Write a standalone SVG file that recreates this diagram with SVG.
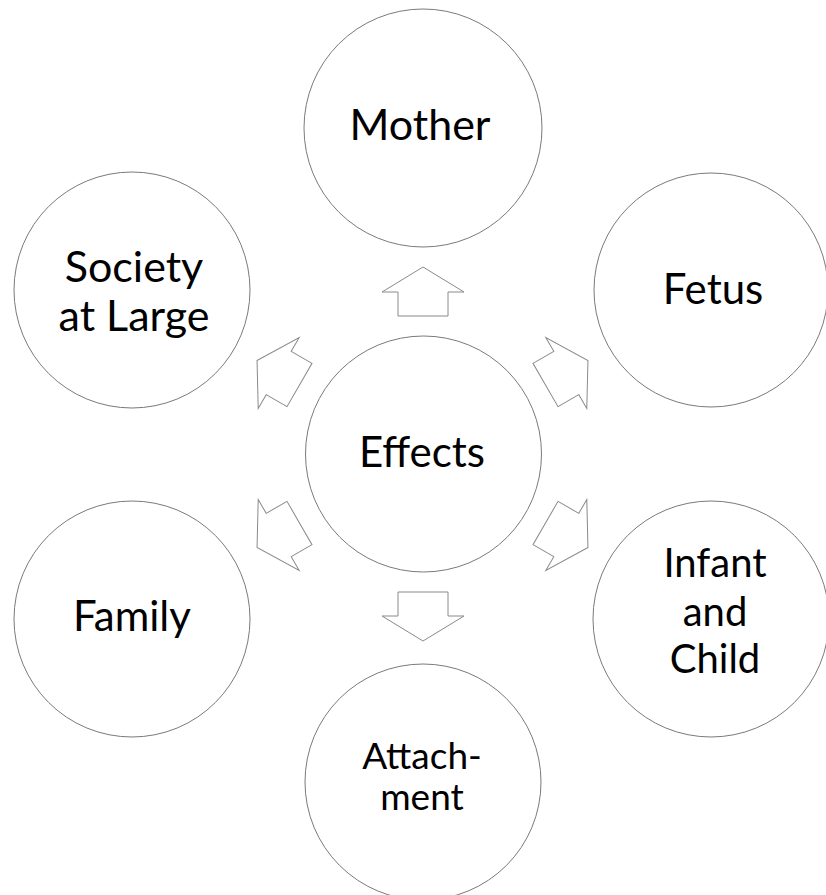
<svg xmlns="http://www.w3.org/2000/svg" width="826" height="895" viewBox="0 0 826 895">
<style>
.c{fill:#fff;stroke:#7a7a7a;stroke-width:1}
.a{fill:#fff;stroke:#8a8a8a;stroke-width:1;stroke-linejoin:miter}
.t{font-family:Lato,"Open Sans","Liberation Sans",sans-serif;fill:#000;text-anchor:middle}
</style>
<defs>
<polygon id="arr" points="423,267 464,292 448,292 448,316 398,316 398,292 382,292"/>
</defs>
<rect width="826" height="895" fill="#fff"/>
<g id="connectors">
<use href="#arr" class="a"/>
<use href="#arr" class="a" transform="translate(3,0) rotate(60 423 454)"/>
<use href="#arr" class="a" transform="translate(3,0) rotate(120 423 454)"/>
<use href="#arr" class="a" transform="rotate(180 423 454)"/>
<use href="#arr" class="a" transform="translate(-4,0) rotate(-120 423 454)"/>
<use href="#arr" class="a" transform="translate(-4,0) rotate(-60 423 454)"/>
</g>
<g id="effects">
<circle class="c" cx="423.5" cy="454" r="118"/>
<text class="t" x="422" y="467" font-size="42">Effects</text>
</g>
<g id="mother">
<circle class="c" cx="423" cy="128" r="119"/>
<text class="t" x="420" y="140" font-size="43">Mother</text>
</g>
<g id="fetus">
<circle class="c" cx="711" cy="290" r="117"/>
<text class="t" x="713" y="304" font-size="42">Fetus</text>
</g>
<g id="infant">
<circle class="c" cx="711" cy="619" r="118"/>
<text class="t" x="715" y="577" font-size="40">Infant</text>
<text class="t" x="715" y="626" font-size="40">and</text>
<text class="t" x="715" y="673" font-size="40">Child</text>
</g>
<g id="attachment">
<circle class="c" cx="423" cy="782" r="118"/>
<text class="t" x="422" y="769" font-size="37">Attach-</text>
<text class="t" x="422" y="810" font-size="37">ment</text>
</g>
<g id="family">
<circle class="c" cx="132" cy="619" r="118"/>
<text class="t" x="132" y="631" font-size="42">Family</text>
</g>
<g id="society">
<circle class="c" cx="132" cy="290" r="118"/>
<text class="t" x="134" y="282" font-size="43">Society</text>
<text class="t" x="134" y="331" font-size="43">at Large</text>
</g>
</svg>
